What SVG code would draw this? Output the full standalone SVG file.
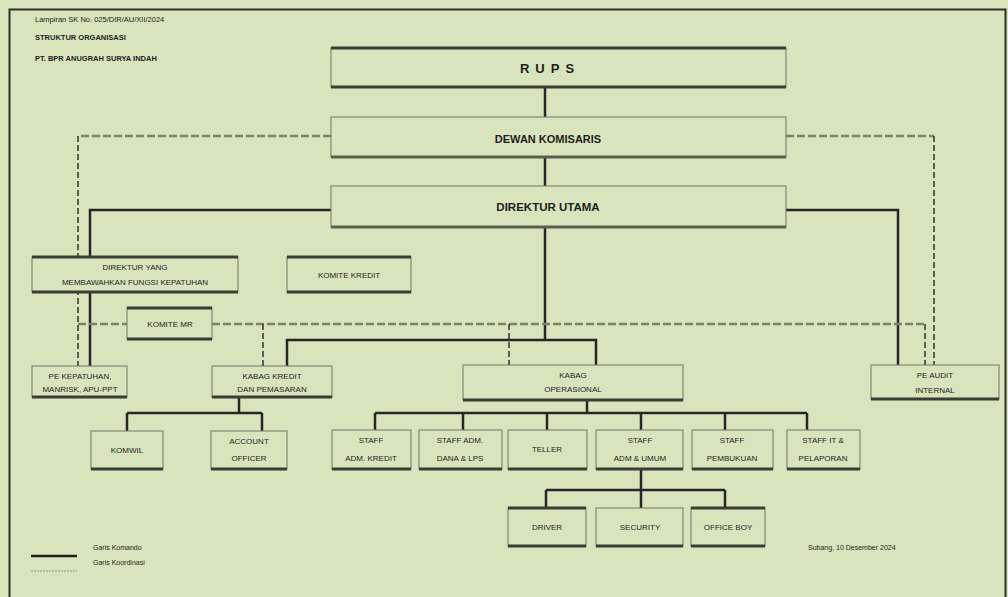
<svg xmlns="http://www.w3.org/2000/svg" width="1008" height="597" viewBox="0 0 1008 597">
<style>
.bg{fill:#d8e4bc}
.box{fill:#d8e4bc;stroke:#707468;stroke-width:1}
.bot{stroke:#3a3d36;stroke-width:3;fill:none}
.s{stroke:#262626;stroke-width:2.5;fill:none}
.d{stroke:#7c8268;stroke-width:2.5;fill:none;stroke-dasharray:8 3}
.dv{stroke:#3a3d36;stroke-width:1.6;fill:none;stroke-dasharray:6 3}
text{font-family:"Liberation Sans",Arial,sans-serif;fill:#1e1e1e}
.t{font-size:8px;text-anchor:middle}
.tb{font-size:11px;font-weight:bold;text-anchor:middle}
.h{font-size:7.5px}
.hb{font-size:7.5px;font-weight:bold}
</style>
<rect class="bg" x="0" y="0" width="1008" height="597"/>
<rect x="9.5" y="9.5" width="996" height="600" fill="#d8e4bc" stroke="#2e2e2e" stroke-width="2"/>

<g id="header">
<text class="h" x="35" y="22">Lampiran SK No. 025/DIR/AU/XII/2024</text>
<text class="hb" x="35" y="40">STRUKTUR ORGANISASI</text>
<text class="hb" x="35" y="61">PT. BPR ANUGRAH SURYA INDAH</text>
</g>

<g id="connectors">
<path class="s" d="M545 87V117M545 157V186M545 227V340"/>
<path class="s" d="M331 210H90V366"/>
<path class="s" d="M786 210H898V365"/>
<path class="s" d="M287 366V340H596V365"/>
<path class="s" d="M239 397V413M127 413H262M127 413V431M262 413V431"/>
<path class="s" d="M587 400V413M375 413H807M375 413V430M463 413V430M547 413V430M641 413V430M725 413V430M807 413V430"/>
<path class="s" d="M641 469V490M546 490H725M546 490V508M641 490V508M725 490V508"/>
<path class="d" d="M331 136H78"/>
<path class="dv" d="M78 136V366"/>
<path class="d" d="M786 136H934"/>
<path class="dv" d="M934 136V365"/>
<path class="d" d="M78 324H127M212 324H925"/>
<path class="dv" d="M925 324V365M263 324V366M509 324V365"/>
</g>

<g id="rups"><rect class="box" x="331" y="48" width="455" height="39"/><path class="bot" d="M331 48H786M331 87H786"/><text class="tb" x="550" y="73" style="font-size:13px;letter-spacing:6px">RUPS</text></g>
<g id="dewan"><rect class="box" x="331" y="117" width="455" height="40"/><path class="bot" d="M331 157H786" style="stroke:#5a5e50"/><text class="tb" x="548" y="143">DEWAN KOMISARIS</text></g>
<g id="dirut"><rect class="box" x="331" y="186" width="455" height="41"/><path class="bot" d="M331 227H786" style="stroke:#5a5e50"/><text class="tb" x="548" y="211" style="font-size:11.5px">DIREKTUR UTAMA</text></g>

<g id="dir-kepatuhan"><rect class="box" x="32" y="257" width="206" height="35"/><path class="bot" d="M32 257H238M32 292H238"/><text class="t" x="135" y="270">DIREKTUR YANG</text><text class="t" x="135" y="285">MEMBAWAHKAN FUNGSI KEPATUHAN</text></g>
<g id="komite-kredit"><rect class="box" x="287" y="257" width="124" height="35"/><path class="bot" d="M287 257H411M287 292H411"/><text class="t" x="349" y="278">KOMITE KREDIT</text></g>
<g id="komite-mr"><rect class="box" x="127" y="308" width="85" height="31"/><path class="bot" d="M127 308H212M127 339H212"/><text class="t" x="170" y="327">KOMITE MR</text></g>

<g id="pe-kepatuhan"><rect class="box" x="32" y="366" width="95" height="31"/><path class="bot" d="M32 397H127"/><text class="t" x="80" y="379">PE KEPATUHAN,</text><text class="t" x="80" y="392">MANRISK, APU-PPT</text></g>
<g id="kabag-kredit"><rect class="box" x="212" y="366" width="120" height="31"/><path class="bot" d="M212 397H332"/><text class="t" x="272" y="379">KABAG KREDIT</text><text class="t" x="272" y="392">DAN PEMASARAN</text></g>
<g id="kabag-ops"><rect class="box" x="463" y="365" width="220" height="35"/><path class="bot" d="M463 400H683"/><text class="t" x="573" y="378">KABAG</text><text class="t" x="573" y="392">OPERASIONAL</text></g>
<g id="pe-audit"><rect class="box" x="871" y="365" width="128" height="34"/><path class="bot" d="M871 399H999"/><text class="t" x="935" y="378">PE AUDIT</text><text class="t" x="935" y="393">INTERNAL</text></g>

<g id="komwil"><rect class="box" x="91" y="431" width="72" height="38"/><path class="bot" d="M91 469H163"/><text class="t" x="127" y="453">KOMWIL</text></g>
<g id="ao"><rect class="box" x="211" y="431" width="76" height="38"/><path class="bot" d="M211 469H287"/><text class="t" x="249" y="444">ACCOUNT</text><text class="t" x="249" y="461">OFFICER</text></g>

<g id="staff-adm-kredit"><rect class="box" x="332" y="430" width="79" height="39"/><path class="bot" d="M332 469H411"/><text class="t" x="371" y="443">STAFF</text><text class="t" x="371" y="461">ADM. KREDIT</text></g>
<g id="staff-adm-dana"><rect class="box" x="419" y="430" width="83" height="39"/><path class="bot" d="M419 469H502"/><text class="t" x="460" y="443">STAFF ADM.</text><text class="t" x="460" y="461">DANA &amp; LPS</text></g>
<g id="teller"><rect class="box" x="508" y="430" width="79" height="39"/><path class="bot" d="M508 469H587"/><text class="t" x="547" y="452">TELLER</text></g>
<g id="staff-adm-umum"><rect class="box" x="596" y="430" width="87" height="39"/><path class="bot" d="M596 469H683"/><text class="t" x="640" y="443">STAFF</text><text class="t" x="640" y="461">ADM &amp; UMUM</text></g>
<g id="staff-pembukuan"><rect class="box" x="692" y="430" width="81" height="39"/><path class="bot" d="M692 469H773"/><text class="t" x="732" y="443">STAFF</text><text class="t" x="732" y="461">PEMBUKUAN</text></g>
<g id="staff-it"><rect class="box" x="787" y="430" width="73" height="39"/><path class="bot" d="M787 469H860"/><text class="t" x="823" y="443">STAFF IT &amp;</text><text class="t" x="823" y="461">PELAPORAN</text></g>

<g id="driver"><rect class="box" x="508" y="508" width="78" height="38"/><path class="bot" d="M508 508H586M508 546H586"/><text class="t" x="547" y="530">DRIVER</text></g>
<g id="security"><rect class="box" x="596" y="508" width="87" height="38"/><path class="bot" d="M596 546H683"/><text class="t" x="640" y="530">SECURITY</text></g>
<g id="office-boy"><rect class="box" x="691" y="508" width="74" height="38"/><path class="bot" d="M691 508H765M691 546H765"/><text class="t" x="728" y="530">OFFICE BOY</text></g>

<g id="legend">
<path d="M31 556H77" stroke="#1e1e1e" stroke-width="2.5"/>
<path d="M31 571H77" stroke="#a9ad9c" stroke-width="1.5" stroke-dasharray="2 1"/>
<text class="h" x="93" y="550" style="font-size:7px">Garis Komando</text>
<text class="h" x="93" y="565" style="font-size:7px">Garis Koordinasi</text>
<text class="h" x="808" y="550" style="font-size:7px">Subang, 10 Desember 2024</text>
</g>
</svg>
